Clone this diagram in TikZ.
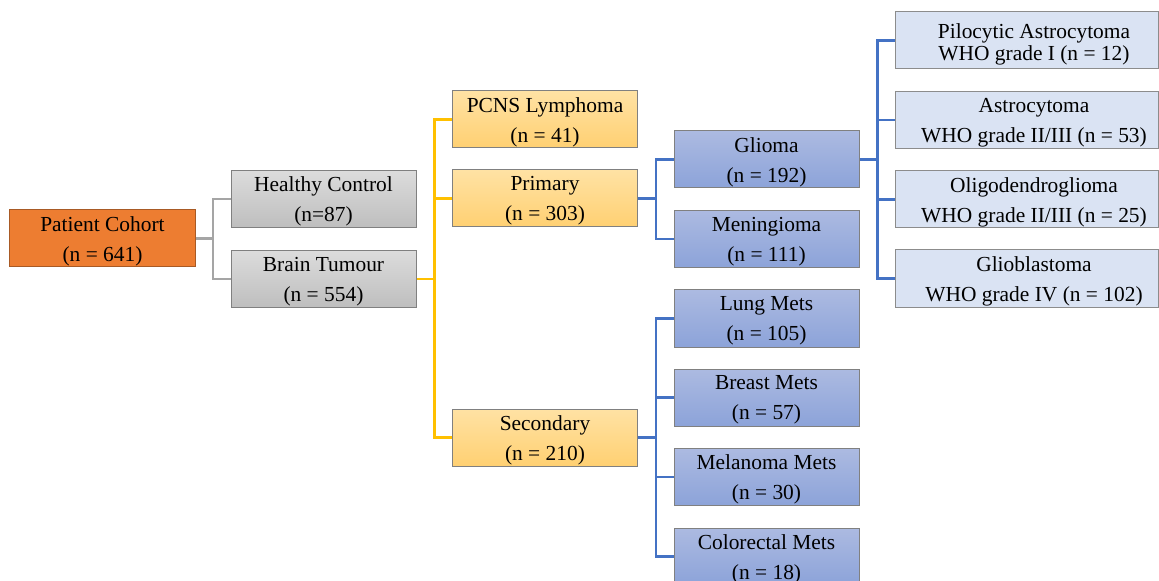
\documentclass[tikz,border=0pt]{standalone}
\usepackage{fontspec}
\setmainfont{Liberation Serif}
\begin{document}
\begin{tikzpicture}[x=1bp,y=-1bp,
  box/.style={draw=boxborder,line width=1bp,minimum width=185bp,minimum height=57bp,inner sep=0pt},
  txt/.style={align=center,inner sep=0pt,font=\fontsize{21.5}{30}\selectfont,yshift=-2.5bp},
  ttxt/.style={txt,font=\fontsize{21.5}{22}\selectfont,xshift=7.5bp,yshift=-1.5bp},
  rtxt/.style={txt,xshift=7.5bp},
  orangebox/.style={box,fill=cohort,draw=cohortborder},
  graybox/.style={box,top color=grayTop,bottom color=grayBot},
  yellowbox/.style={box,top color=yelTop,bottom color=yelBot},
  bluebox/.style={box,top color=bluTop,bottom color=bluBot},
  lightbox/.style={box,fill=lightblue,draw=lightborder,minimum width=263bp},
  grayline/.style={draw=lineGray,line width=2.6bp},
  yelline/.style={draw=lineYel,line width=2.4bp},
  bluline/.style={draw=lineBlu,line width=2.4bp}]
\definecolor{cohort}{HTML}{ED7D31}
\definecolor{cohortborder}{HTML}{A85A25}
\definecolor{boxborder}{HTML}{808080}
\definecolor{grayTop}{HTML}{DCDCDC}
\definecolor{grayBot}{HTML}{BEBEBE}
\definecolor{yelTop}{HTML}{FFE2A4}
\definecolor{yelBot}{HTML}{FFD072}
\definecolor{bluTop}{HTML}{ACBAE1}
\definecolor{bluBot}{HTML}{8CA3D9}
\definecolor{lightblue}{HTML}{DAE3F3}
\definecolor{lightborder}{HTML}{8C8C8C}
\definecolor{lineGray}{HTML}{A5A5A5}
\definecolor{lineYel}{HTML}{FFC000}
\definecolor{lineBlu}{HTML}{4472C4}
\useasboundingbox (0,0) rectangle (1159,581);
\clip (0,0) rectangle (1159,581);

\node[orangebox,label={[txt]center:Patient Cohort\\(n = 641)}] (pc) at (102.5,238.5) {};
\node[graybox,label={[txt]center:Healthy Control\\(n=87)}] (hc) at (323.5,199) {};
\node[graybox,label={[txt]center:Brain Tumour\\(n = 554)}] (bt) at (323.5,279) {};
\node[yellowbox,label={[txt]center:PCNS Lymphoma\\(n = 41)}] (pcns) at (545,119.5) {};
\node[yellowbox,label={[txt]center:Primary\\(n = 303)}] (prim) at (545,198.5) {};
\node[yellowbox,label={[txt]center:Secondary\\(n = 210)}] (sec) at (545,437.5) {};
\node[bluebox,label={[txt]center:Glioma\\(n = 192)}] (gli) at (766.5,159.5) {};
\node[bluebox,label={[txt]center:Meningioma\\(n = 111)}] (men) at (766.5,239) {};
\node[bluebox,label={[txt]center:Lung Mets\\(n = 105)}] (lung) at (766.5,318.5) {};
\node[bluebox,label={[txt]center:Breast Mets\\(n = 57)}] (breast) at (766.5,397.5) {};
\node[bluebox,label={[txt]center:Melanoma Mets\\(n = 30)}] (mel) at (766.5,477) {};
\node[bluebox,label={[txt]center:Colorectal Mets\\(n = 18)}] (col) at (766.5,556.5) {};
\node[lightbox,label={[ttxt]center:Pilocytic Astrocytoma\\WHO grade I (n = 12)}] (pil) at (1026.5,40.5) {};
\node[lightbox,label={[rtxt]center:Astrocytoma\\WHO grade II/III (n = 53)}] (ast) at (1026.5,120) {};
\node[lightbox,label={[rtxt]center:Oligodendroglioma\\WHO grade II/III (n = 25)}] (oli) at (1026.5,199.5) {};
\node[lightbox,label={[rtxt]center:Glioblastoma\\WHO grade IV (n = 102)}] (glb) at (1026.5,278.5) {};

\coordinate (j1) at (213,0);
\coordinate (j2) at (434.5,0);
\coordinate (j3) at (656,0);
\coordinate (j4) at (877.5,0);

\draw[grayline] (pc.east) -- (pc.east -| j1);
\draw[grayline] (hc.west) -| (j1 |- bt.west) -- (bt.west);

\draw[yelline] (bt.east) -- (bt.east -| j2);
\draw[yelline] (pcns.west) -| (j2 |- sec.west) -- (sec.west);
\draw[yelline] (prim.west) -- (prim.west -| j2);

\draw[bluline] (prim.east) -- (prim.east -| j3);
\draw[bluline] (gli.west) -| (j3 |- men.west) -- (men.west);

\draw[bluline] (sec.east) -- (sec.east -| j3);
\draw[bluline] (lung.west) -| (j3 |- col.west) -- (col.west);
\draw[bluline] (breast.west) -- (breast.west -| j3);
\draw[bluline] (mel.west) -- (mel.west -| j3);

\draw[bluline] (gli.east) -- (gli.east -| j4);
\draw[bluline] (pil.west) -| (j4 |- glb.west) -- (glb.west);
\draw[bluline] (ast.west) -- (ast.west -| j4);
\draw[bluline] (oli.west) -- (oli.west -| j4);
\end{tikzpicture}
\end{document}
